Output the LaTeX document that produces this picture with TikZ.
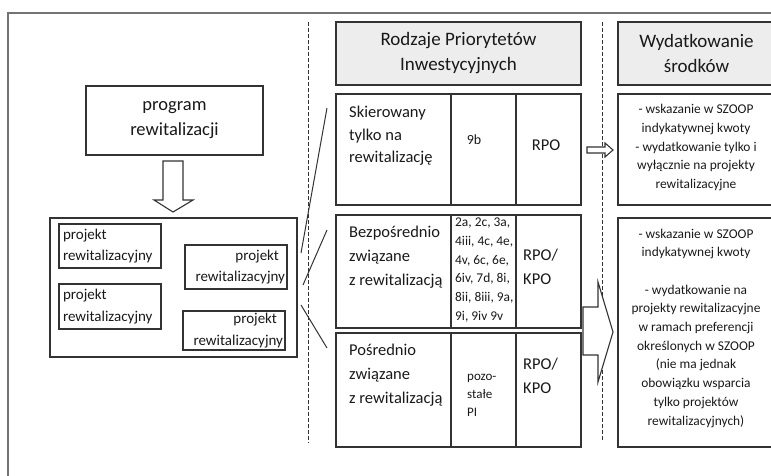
\documentclass[tikz,border=0pt]{standalone}
\usepackage{fontspec}
\setmainfont{Carlito}
\usetikzlibrary{positioning,calc}

\begin{document}
\begin{tikzpicture}[x=1pt,y=-1pt,
  ramka/.style={draw=black!80, line width=1.1pt, outer sep=0pt, inner sep=0pt},
  naglowek/.style={ramka, fill=black!7, align=center, text=black!90, font=\fontsize{19}{25}\selectfont},
  tekst/.style={inner sep=0pt, text=black!90},
  opis/.style={tekst, align=left, anchor=west},
  duze/.style={font=\fontsize{16.5}{24}\selectfont},
  drobne/.style={font=\fontsize{13.4}{18.7}\selectfont},
  projekt/.style={ramka, minimum width=102pt, minimum height=44pt, text width=94pt, inner xsep=4pt, text=black!90, font=\fontsize{15}{21.5}\selectfont},
  linia/.style={black!80, line width=1pt},
  przerywana/.style={black!80, line width=1pt, dash pattern=on 4pt off 2pt},
  pusta/.style={draw=black!80, line width=1.1pt, fill=white}]

\useasboundingbox (0,0) rectangle (771,475);
\draw[black!55, line width=1.1pt] (8,476) -- (8,13) -- (772,13);

\draw[przerywana] (308,22) -- (308,443);
\draw[przerywana] (602,22) -- (602,440);

\node[ramka, minimum width=177pt, minimum height=69pt, align=center, text=black!90, font=\fontsize{18.5}{25}\selectfont] (program) at (174.5,120.5) {program\\rewitalizacji};
\draw[pusta] (163,161) -- (183,161) -- (183,200) -- (193,200) -- (173,212) -- (154,200) -- (163,200) -- cycle;

\node[ramka, minimum width=247pt, minimum height=139pt] (projekty) at (173.5,287.5) {};
\node[projekt, align=left] (p1) at (110,246) {projekt\\rewitalizacyjny};
\node[projekt, align=right, text width=98pt, inner xsep=2pt] (p2) at (236,267) {projekt\kern6pt\\rewitalizacyjny};
\node[projekt, align=left, minimum height=45pt] (p3) at (110,306.5) {projekt\\rewitalizacyjny};
\node[projekt, align=right, text width=98pt, inner xsep=2pt, minimum height=39pt] (p4) at (234,330.5) {projekt\kern6pt\\rewitalizacyjny};

\coordinate (k1) at (301,253); \coordinate (k1b) at (327,108);
\coordinate (k2) at (303,285); \coordinate (k2b) at (327,230);
\coordinate (k3) at (301,305); \coordinate (k3b) at (327,348);
\draw[linia] (k1) -- (k1b);
\draw[linia] (k2) -- (k2b);
\draw[linia] (k3) -- (k3b);

\node[naglowek, minimum width=245pt, minimum height=63pt] (rodzaje) at (458.5,53.5) {Rodzaje Priorytetów\\Inwestycyjnych};
\foreach \w/\y/\h in {1/94/111, 2/215/113, 3/333/114} {
  \node[ramka, minimum width=115pt, minimum height=\h pt, anchor=north west] (w\w a) at (336,\y) {};
  \node[ramka, minimum width=65pt, minimum height=\h pt, right=0pt of w\w a] (w\w b) {};
  \node[ramka, minimum width=65pt, minimum height=\h pt, right=0pt of w\w b] (w\w c) {};
}

\node[opis, font=\fontsize{16.5}{22.5}\selectfont] (t1a) at (349,136) {Skierowany\\tylko na\\rewitalizację};
\node[tekst, font=\fontsize{14}{18}\selectfont] (t1b) at (474,140) {9b};
\node[tekst, duze] (t1c) at (546,145) {RPO};
\node[opis, duze] (t2a) at (349,257) {Bezpośrednio\\związane\\z rewitalizacją};
\node[opis, drobne] (t2b) at (455,270) {2a, 2c, 3a,\\4iii, 4c, 4e,\\4v, 6c, 6e,\\6iv, 7d, 8i,\\8ii, 8iii, 9a,\\9i, 9iv 9v};
\node[opis, duze] (t2c) at (523,266.5) {RPO/\\KPO};
\node[opis, duze] (t3a) at (349,375) {Pośrednio\\związane\\z rewitalizacją};
\node[opis, font=\fontsize{13}{18}\selectfont] (t3b) at (467,395) {pozo-\\stałe\\PI};
\node[opis, duze] (t3c) at (523,375.5) {RPO/\\KPO};

\node[naglowek, minimum width=157pt, minimum height=63pt] (wydatki) at (696.5,53.5) {Wydatkowanie\\środków};
\node[ramka, minimum width=157pt, minimum height=111pt, anchor=north west] (r1) at (618,94) {};
\node[ramka, minimum width=157pt, minimum height=229pt, anchor=north west] (r2) at (618,218) {};
\node[tekst, drobne, align=center] (r1t) at (696,147.5) {- wskazanie w SZOOP\\indykatywnej kwoty\\- wydatkowanie tylko i\\wyłącznie na projekty\\rewitalizacyjne};
\node[tekst, drobne, align=center] (r2t) at (696,328) {- wskazanie w SZOOP\\indykatywnej kwoty\\[18.7pt]- wydatkowanie na\\projekty rewitalizacyjne\\w ramach preferencji\\określonych w SZOOP\\(nie ma jednak\\obowiązku wsparcia\\tylko projektów\\rewitalizacyjnych)};

\draw[pusta] (587,147) -- (605,147) -- (605,143) -- (613,150) -- (605,157) -- (605,153) -- (587,153) -- cycle;
\draw[pusta] (583,307) -- (598,307) -- (598,282) -- (613,332) -- (598,382) -- (598,355) -- (583,355) -- cycle;

\end{tikzpicture}
\end{document}
